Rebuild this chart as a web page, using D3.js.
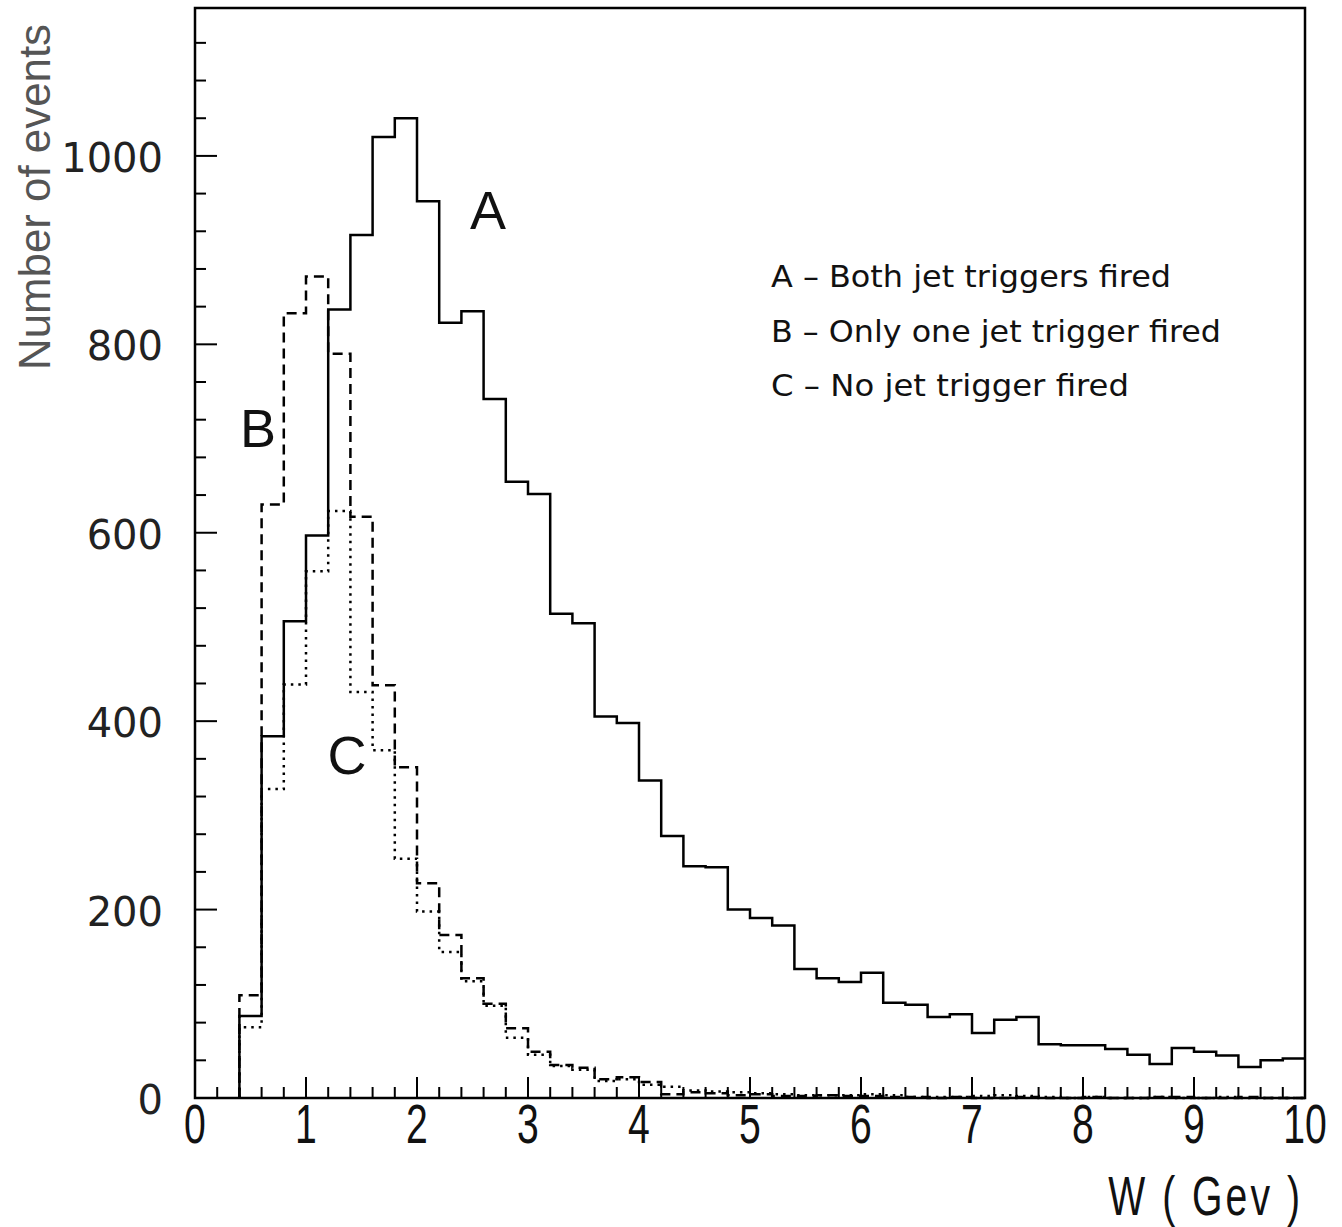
<!DOCTYPE html>
<html>
<head>
<meta charset="utf-8">
<script src="https://cdn.jsdelivr.net/npm/d3@7"></script>
<style>
  body { margin: 0; background: #fff; }
  svg { display: block; }
</style>
</head>
<body>
<div id="chart"></div>
<script>
// low edge of every 0.2 GeV bin
const binLow = [0.4, 0.6, 0.8, 1.0, 1.2, 1.4, 1.6, 1.8, 2.0, 2.2, 2.4, 2.6, 2.8, 3.0, 3.2, 3.4,
                3.6, 3.8, 4.0, 4.2, 4.4, 4.6, 4.8, 5.0, 5.2, 5.4, 5.6, 5.8, 6.0, 6.2, 6.4, 6.6,
                6.8, 7.0, 7.2, 7.4, 7.6, 7.8, 8.0, 8.2, 8.4, 8.6, 8.8, 9.0, 9.2, 9.4, 9.6, 9.8];
const binWidth = 0.2;

// A - both jet triggers fired (solid)
const countsA = [87, 384, 506, 597, 837, 916, 1020, 1040, 952, 823, 835, 742, 654, 641, 514, 504,
                 405, 398, 337, 278, 246, 245, 200, 191, 183, 137, 127, 123, 133, 101, 99, 86,
                 89, 69, 83, 86, 57, 56, 56, 52, 46, 36, 53, 49, 45, 33, 40, 42];
// B - only one jet trigger fired (dashed)
const countsB = [109, 630, 833, 872, 790, 617, 438, 351, 228, 173, 127, 100, 74, 49, 35, 32,
                 20, 22, 17, 4, 6, 5, 3, 4, 2, 2, 3, 2, 2, 1, 1, 0,
                 1, 0, 0, 1, 0, 0, 1, 0, 0, 1, 1, 0, 0, 1, 0, 0];
// C - no jet trigger fired (dotted)
const countsC = [75, 328, 439, 559, 623, 431, 369, 254, 198, 155, 124, 98, 64, 46, 34, 30,
                 18, 20, 14, 12, 8, 7, 6, 5, 4, 3, 3, 3, 4, 3, 1, 1,
                 1, 2, 3, 2, 1, 0, 1, 0, 0, 1, 0, 0, 1, 0, 0, 0];

const xTickLabels = [0, 1, 2, 3, 4, 5, 6, 7, 8, 9, 10];
const yTickLabels = [0, 200, 400, 600, 800, 1000];
const legendLines = ["A \u2013 Both jet triggers fired",
                     "B \u2013 Only one jet trigger fired",
                     "C \u2013 No jet trigger fired"];

function drawChart() {
  const W = 1342, H = 1227;
  const left = 195, right = 1305, top = 8, bottom = 1098;

  const x = d3.scaleLinear().domain([0, 10]).range([left, right]);
  const y = d3.scaleLinear().domain([0, 1157]).range([bottom, top]);

  const svg = d3.select("#chart")
    .append("svg")
    .attr("width", W)
    .attr("height", H);

  // histogram outlines
  const line = d3.line()
    .x(d => x(d[0]))
    .y(d => y(d[1]))
    .curve(d3.curveStepAfter);

  function stepPoints(counts) {
    const pts = [[binLow[0], 0]];
    counts.forEach((c, i) => pts.push([binLow[i], c]));
    pts.push([binLow[binLow.length - 1] + binWidth, counts[counts.length - 1]]);
    return pts;
  }

  const series = [
    {counts: countsC, dash: "2.5,5"},
    {counts: countsB, dash: "10,6"},
    {counts: countsA, dash: null}
  ];

  svg.selectAll("path.hist")
    .data(series)
    .enter()
    .append("path")
    .attr("class", "hist")
    .attr("d", d => line(stepPoints(d.counts)))
    .attr("fill", "none")
    .attr("stroke", "#000")
    .attr("stroke-width", 2.5)
    .attr("stroke-dasharray", d => d.dash);

  // frame
  svg.append("rect")
    .attr("x", left)
    .attr("y", top)
    .attr("width", right - left)
    .attr("height", bottom - top)
    .attr("fill", "none")
    .attr("stroke", "#000")
    .attr("stroke-width", 2.5);

  // y ticks (inside, every 40)
  const yTicks = d3.range(0, 1157, 40);
  svg.append("g")
    .selectAll("line")
    .data(yTicks)
    .enter()
    .append("line")
    .attr("x1", left)
    .attr("x2", d => left + (d % 200 === 0 ? 22 : 11))
    .attr("y1", d => y(d))
    .attr("y2", d => y(d))
    .attr("stroke", "#000")
    .attr("stroke-width", 2);

  svg.append("g")
    .selectAll("text")
    .data(yTickLabels)
    .enter()
    .append("text")
    .attr("x", 163)
    .attr("y", d => y(d) + 16)
    .attr("text-anchor", "end")
    .attr("font-family", "DejaVu Sans")
    .attr("font-size", 40)
    .attr("fill", "#222")
    .text(d => d);

  // x ticks (inside, every 0.2)
  const xTicks = d3.range(0, 51).map(i => i / 5);
  svg.append("g")
    .selectAll("line")
    .data(xTicks)
    .enter()
    .append("line")
    .attr("x1", d => x(d))
    .attr("x2", d => x(d))
    .attr("y1", bottom)
    .attr("y2", d => bottom - (Math.abs(d - Math.round(d)) < 1e-6 ? 21 : 11))
    .attr("stroke", "#000")
    .attr("stroke-width", 2);

  svg.append("g")
    .selectAll("text")
    .data(xTickLabels)
    .enter()
    .append("text")
    .attr("transform", d => "translate(" + x(d) + ",1143) scale(0.7,1)")
    .attr("text-anchor", "middle")
    .attr("font-family", "Liberation Sans")
    .attr("font-size", 56)
    .attr("fill", "#111")
    .text(d => d);

  // axis titles
  svg.append("text")
    .attr("transform", "translate(1300,1215) scale(0.7,1)")
    .attr("text-anchor", "end")
    .attr("font-family", "Liberation Sans")
    .attr("font-size", 56)
    .attr("textLength", 274)
    .attr("fill", "#111")
    .text("W ( Gev )");

  svg.append("text")
    .attr("transform", "translate(50,197) rotate(-90)")
    .attr("text-anchor", "middle")
    .attr("font-family", "Liberation Sans")
    .attr("font-size", 44)
    .attr("textLength", 346)
    .attr("lengthAdjust", "spacingAndGlyphs")
    .attr("fill", "#555")
    .text("Number of events");

  // legend
  const legendWidths = [400, 450, 358];
  svg.append("g")
    .selectAll("text")
    .data(legendLines)
    .enter()
    .append("text")
    .attr("x", 771)
    .attr("y", (d, i) => 287 + i * 54.5)
    .attr("font-family", "DejaVu Sans")
    .attr("font-size", 31)
    .attr("textLength", (d, i) => legendWidths[i])
    .attr("lengthAdjust", "spacingAndGlyphs")
    .attr("fill", "#111")
    .text(d => d);

  // curve letters
  const letters = [
    {t: "A", x: 488, y: 229},
    {t: "B", x: 258, y: 447},
    {t: "C", x: 347, y: 774}
  ];
  svg.append("g")
    .selectAll("text")
    .data(letters)
    .enter()
    .append("text")
    .attr("x", d => d.x)
    .attr("y", d => d.y)
    .attr("text-anchor", "middle")
    .attr("font-family", "Liberation Sans")
    .attr("font-size", 54)
    .attr("fill", "#111")
    .text(d => d.t);
}

window.onload = function() {
  drawChart();
};
</script>
</body>
</html>
